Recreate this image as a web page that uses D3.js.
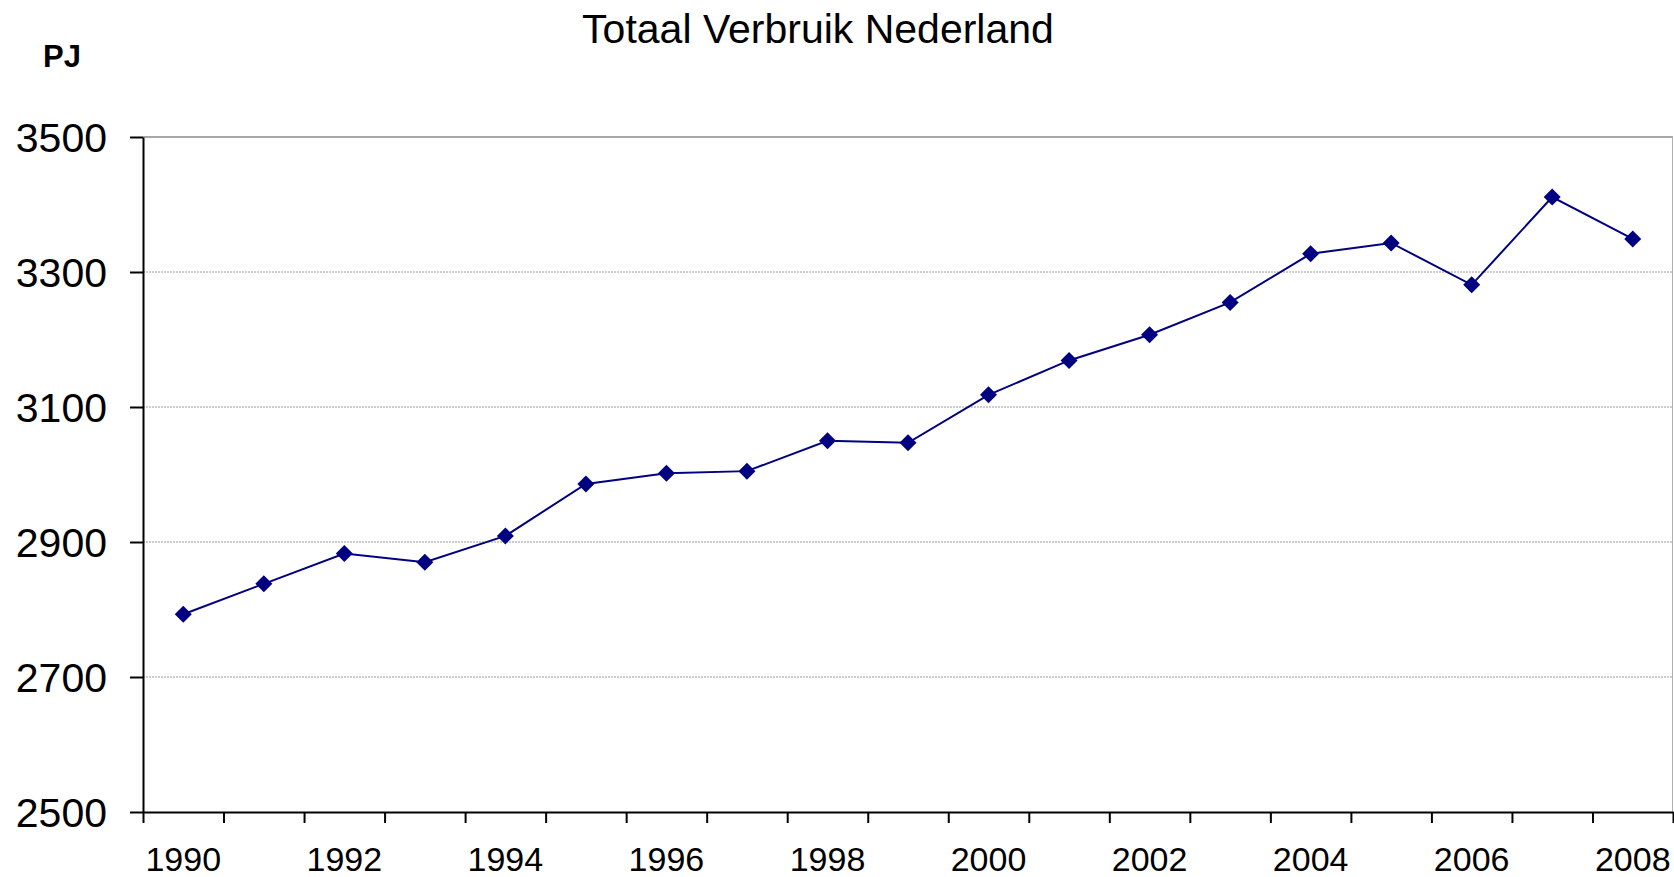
<!DOCTYPE html>
<html>
<head>
<meta charset="utf-8">
<style>
  body { margin: 0; background: #fff; }
  svg { display: block; font-family: "Liberation Sans", Arial, sans-serif; }
  .grid line { stroke: #9a9a9a; stroke-width: 1px; stroke-dasharray: 2,1; }
  .axis path, .axis line { stroke: #000; stroke-width: 2px; }
  .axis text { fill: #000; }
</style>
</head>
<body>
<svg id="chart" width="1674" height="877"></svg>
<script src="https://d3js.org/d3.v7.min.js"></script>
<script>
// data
var years = [1990, 1991, 1992, 1993, 1994, 1995, 1996, 1997, 1998, 1999,
             2000, 2001, 2002, 2003, 2004, 2005, 2006, 2007, 2008];
var verbruik = [2793, 2838, 2883, 2870, 2909, 2986, 3002, 3005, 3050, 3047,
                3118, 3169, 3207, 3255, 3327, 3343, 3281, 3411, 3349];
var yTicks = [2500, 2700, 2900, 3100, 3300, 3500];
var yearLabels = [1990, 1992, 1994, 1996, 1998, 2000, 2002, 2004, 2006, 2008];

var plotLeft = 143, plotRight = 1673, plotTop = 137, plotBottom = 812;

var svg = d3.select('#chart');

var x = d3.scaleBand().domain(years).range([plotLeft, plotRight]).padding(0);
var xEdge = d3.scaleLinear().domain([0, years.length]).range([plotLeft, plotRight]);
var y = d3.scaleLinear().domain([2500, 3500]).range([plotBottom, plotTop]);

// gridlines (the top one doubles as the plot border)
svg.append('g')
  .attr('class', 'grid')
  .selectAll('line')
  .data(yTicks.filter(d => d > 2500))
  .enter()
  .append('line')
  .attr('x1', plotLeft)
  .attr('x2', plotRight)
  .attr('y1', d => y(d))
  .attr('y2', d => y(d))
  .style('stroke', d => d === 3500 ? '#8a8a8a' : null)
  .style('stroke-width', d => d === 3500 ? '1.5px' : null)
  .style('stroke-dasharray', d => d === 3500 ? 'none' : null);

// right border of plot area
svg.append('line')
  .attr('x1', plotRight - 0.5).attr('x2', plotRight - 0.5)
  .attr('y1', plotTop).attr('y2', plotBottom)
  .style('stroke', '#b0b0b0')
  .style('stroke-width', '1px');

// y axis
var yAxis = svg.append('g')
  .attr('class', 'axis')
  .attr('transform', 'translate(' + plotLeft + ',0)')
  .call(d3.axisLeft(y).tickValues(yTicks).tickFormat(d3.format('d'))
    .tickSize(13).tickSizeOuter(0).tickPadding(23));
yAxis.selectAll('text').style('font-size', '41px').attr('dy', '0.36em');

// x axis: tick marks between categories
svg.append('g')
  .attr('class', 'axis')
  .attr('transform', 'translate(0,' + plotBottom + ')')
  .call(d3.axisBottom(xEdge).tickValues(d3.range(years.length + 1))
    .tickSize(11).tickSizeOuter(0).tickFormat(''));

// x labels at category centres, every other year
var xLab = svg.append('g')
  .attr('class', 'axis')
  .attr('transform', 'translate(0,' + plotBottom + ')')
  .call(d3.axisBottom(x).tickValues(yearLabels).tickSize(0).tickPadding(35));
xLab.select('.domain').remove();
xLab.selectAll('text').style('font-size', '34px');

// line
var line = d3.line()
  .x((d, i) => x(years[i]) + x.bandwidth() / 2)
  .y(d => y(d));

svg.append('path')
  .datum(verbruik)
  .attr('d', line)
  .style('fill', 'none')
  .style('stroke', '#000080')
  .style('stroke-width', '2px');

// diamond markers
svg.selectAll('.marker')
  .data(verbruik)
  .enter()
  .append('path')
  .attr('class', 'marker')
  .attr('transform', (d, i) => 'translate(' + (x(years[i]) + x.bandwidth() / 2) + ',' + y(d) + ')')
  .attr('d', 'M0,-8.5L8.5,0L0,8.5L-8.5,0Z')
  .style('fill', '#000080');

// title
svg.append('text')
  .attr('x', 818)
  .attr('y', 43)
  .attr('text-anchor', 'middle')
  .style('font-size', '41px')
  .text('Totaal Verbruik Nederland');

// unit label
svg.append('text')
  .attr('x', 43)
  .attr('y', 67)
  .style('font-size', '31px')
  .style('font-weight', 'bold')
  .text('PJ');
</script>
</body>
</html>
